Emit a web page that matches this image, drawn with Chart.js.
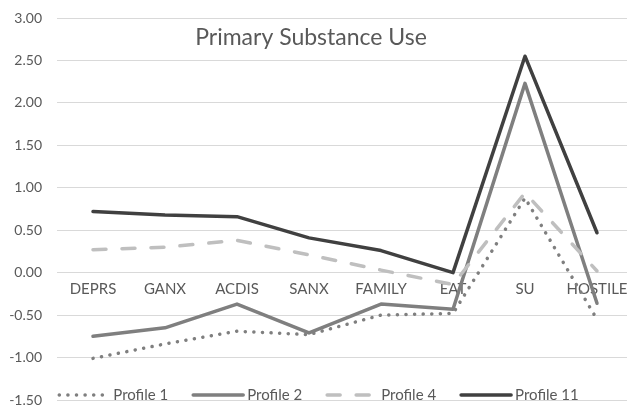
<!DOCTYPE html>
<html>
<head>
<meta charset="utf-8">
<script src="https://cdn.jsdelivr.net/npm/chart.js@4/dist/chart.umd.min.js"></script>
<style>
  html, body { margin: 0; padding: 0; background: #fff; overflow: hidden; }
  #wrap { width: 640px; height: 410px; position: relative; }
</style>
</head>
<body>
<div id="wrap"><canvas id="c"></canvas></div>
<script>
const chartTitle = "Primary Substance Use";
const categories = ["DEPRS", "GANX", "ACDIS", "SANX", "FAMILY", "EAT", "SU", "HOSTILE"];
const seriesNames = ["Profile 1", "Profile 2", "Profile 4", "Profile 11"];
const profile1  = [-1.01, -0.84, -0.69, -0.73, -0.50, -0.48, 0.88, -0.55];
const profile2  = [-0.75, -0.65, -0.37, -0.71, -0.37, -0.43, 2.23, -0.36];
const profile4  = [0.27, 0.30, 0.38, 0.21, 0.03, -0.14, 0.94, 0.02];
const profile11 = [0.72, 0.68, 0.66, 0.41, 0.26, 0.00, 2.55, 0.47];
const yTicks = [-1.5, -1.0, -0.5, 0.0, 0.5, 1.0, 1.5, 2.0, 2.5, 3.0];

const FONT = "Lato, 'Open Sans', sans-serif";
const TEXT = "#595959";

const styles = [
  { color: "#7f7f7f", dash: [0.1, 8.5], cap: "round", order: 4 },
  { color: "#7f7f7f", dash: [], cap: "round", order: 3 },
  { color: "#bfbfbf", dash: [13, 16], cap: "round", order: 2 },
  { color: "#404040", dash: [], cap: "round", order: 1 }
];
const values = [profile1, profile2, profile4, profile11];

const datasets = values.map((v, i) => ({
  label: seriesNames[i],
  data: v,
  borderColor: styles[i].color,
  backgroundColor: styles[i].color,
  borderWidth: 3.5,
  borderDash: styles[i].dash,
  borderCapStyle: styles[i].cap,
  borderJoinStyle: "round",
  pointRadius: 0,
  pointHoverRadius: 0,
  tension: 0,
  fill: false,
  order: styles[i].order
}));

const overlayPlugin = {
  id: "overlay",
  afterDraw(chart) {
    const ctx = chart.ctx;
    ctx.save();
    // title
    ctx.fillStyle = TEXT;
    ctx.font = "23px " + FONT;
    ctx.textAlign = "center";
    ctx.textBaseline = "middle";
    ctx.fillText(chartTitle, 311, 38);
    // legend
    ctx.font = "15px " + FONT;
    const sample = 50, gapText = 4, gapItem = 25;
    let total = 0;
    const widths = seriesNames.map(n => ctx.measureText(n).width);
    widths.forEach((w, i) => { total += sample + gapText + w + (i < widths.length - 1 ? gapItem : 0); });
    let x = 319 - total / 2;
    const y = 395;
    chart.data.datasets.forEach((ds, i) => {
      ctx.beginPath();
      ctx.strokeStyle = ds.borderColor;
      ctx.lineWidth = ds.borderWidth;
      ctx.lineCap = ds.borderCapStyle;
      ctx.setLineDash(ds.borderDash);
      ctx.moveTo(x, y);
      ctx.lineTo(x + sample, y);
      ctx.stroke();
      ctx.setLineDash([]);
      ctx.fillStyle = TEXT;
      ctx.textAlign = "left";
      ctx.textBaseline = "middle";
      ctx.fillText(ds.label, x + sample + gapText, y);
      x += sample + gapText + widths[i] + gapItem;
    });
    ctx.restore();
  }
};

new Chart(document.getElementById("c"), {
  type: "line",
  data: { labels: categories, datasets },
  options: {
    responsive: true,
    maintainAspectRatio: false,
    animation: false,
    layout: { padding: { top: 18, bottom: 10, left: 0, right: 7 } },
    plugins: { legend: { display: false }, title: { display: false }, tooltip: { enabled: false } },
    scales: {
      x: {
        type: "category",
        offset: true,
        position: { y: 0 },
        grid: { display: false, drawTicks: false },
        border: { display: true, color: "#d9d9d9", width: 1 },
        ticks: { color: TEXT, font: { family: FONT, size: 15 }, padding: 7, maxRotation: 0, autoSkip: false },
        afterFit(s) { s.height = 0; s.paddingTop = 0; s.paddingBottom = 0; }
      },
      y: {
        min: -1.5,
        max: 3,
        afterBuildTicks(s) { s.ticks = yTicks.map(v => ({ value: v })); },
        grid: { color: "#d9d9d9", lineWidth: 1, drawTicks: false },
        border: { display: false },
        ticks: {
          color: TEXT,
          font: { family: FONT, size: 14 },
          padding: 15,
          callback: v => Number(v).toFixed(2)
        },
        afterFit(s) { s.width = 57; s.paddingTop = 0; s.paddingBottom = 0; }
      }
    }
  },
  plugins: [overlayPlugin]
});
</script>
</body>
</html>
